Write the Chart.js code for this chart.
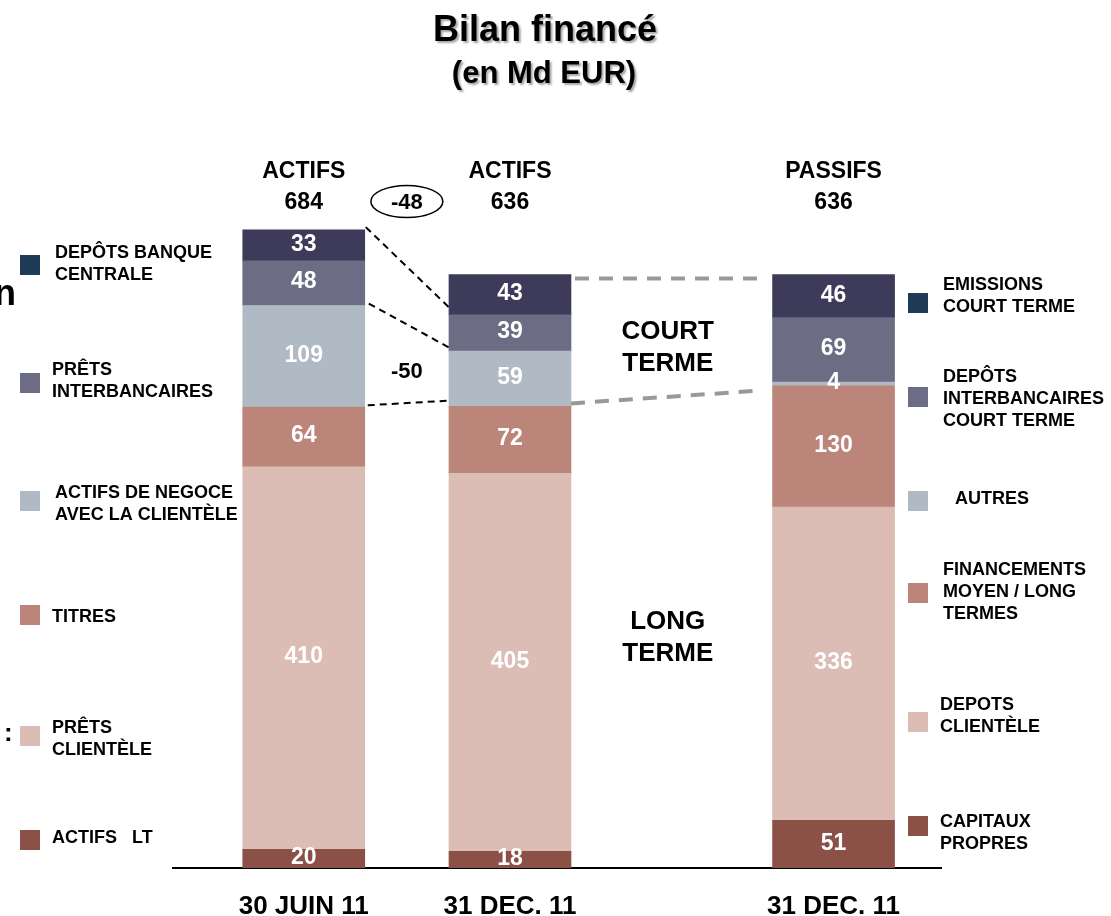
<!DOCTYPE html>
<html>
<head>
<meta charset="utf-8">
<script src="https://cdn.jsdelivr.net/npm/chart.js@4/dist/chart.umd.min.js"></script>
<style>
html, body { margin: 0; padding: 0; background: #fff; }
#wrap { width: 1111px; height: 916px; }
</style>
</head>
<body>
<div id="wrap"><canvas id="bilan"></canvas></div>
<script>
(function(){

// ---- data ----
var categories = ['30 JUIN 11', '31 DEC. 11', '31 DEC. 11'];
var headTitles = ['ACTIFS', 'ACTIFS', 'PASSIFS'];
var headTotals = ['684', '636', '636'];

// stacked layers, bottom to top
var layer1 = [20, 18, 51];     // actifs LT / capitaux propres
var layer2 = [410, 405, 336];  // prêts clientèle / dépots clientèle
var layer3 = [64, 72, 130];    // titres / financements MLT
var layer4 = [109, 59, 4];     // actifs de négoce / autres
var layer5 = [48, 39, 69];     // prêts interbancaires / dépôts interbancaires CT
var layer6 = [33, 43, 46];     // dépôts banque centrale / émissions CT

var assetLegend = [
  ['DEPÔTS BANQUE', 'CENTRALE'],
  ['PRÊTS', 'INTERBANCAIRES'],
  ['ACTIFS DE NEGOCE', 'AVEC LA CLIENTÈLE'],
  ['TITRES'],
  ['PRÊTS', 'CLIENTÈLE'],
  ['ACTIFS   LT']
];
var liabLegend = [
  ['EMISSIONS', 'COURT TERME'],
  ['DEPÔTS', 'INTERBANCAIRES', 'COURT TERME'],
  ['AUTRES'],
  ['FINANCEMENTS', 'MOYEN / LONG', 'TERMES'],
  ['DEPOTS', 'CLIENTÈLE'],
  ['CAPITAUX', 'PROPRES']
];
var diffTotal = '-48';
var diffShort = '-50';

// ---- layout / style ----
var slotX = [0, 1, 2.569];
var layerColors = ['#8B5147', '#DBBDB5', '#BC8579', '#B0BAC4', '#6C6C84', '#3D3A5A'];
var legendColors = ['#1F3B57', '#6C6C84', '#B0BAC4', '#BC8579', '#DBBDB5', '#8B5147'];
var FONT = '"Liberation Sans", Arial, sans-serif';

function pts(vals){
  return vals.map(function(v, i){ return {x: slotX[i], y: v}; });
}

var layers = [layer1, layer2, layer3, layer4, layer5, layer6];
var datasets = layers.map(function(l, i){
  return {
    data: pts(l),
    backgroundColor: layerColors[i],
    borderWidth: 0,
    barThickness: 122,
    stack: 's'
  };
});

function text(ctx, s, x, y, size, color, align, base){
  ctx.font = 'bold ' + size + 'px ' + FONT;
  ctx.fillStyle = color || '#000';
  ctx.textAlign = align || 'center';
  ctx.textBaseline = base || 'alphabetic';
  ctx.fillText(s, x, y);
}

function dashed(ctx, x1, y1, x2, y2, color, w, dash){
  ctx.save();
  ctx.strokeStyle = color;
  ctx.lineWidth = w;
  ctx.setLineDash(dash);
  ctx.beginPath();
  ctx.moveTo(x1, y1);
  ctx.lineTo(x2, y2);
  ctx.stroke();
  ctx.restore();
}

var decor = {
  id: 'decor',
  afterDatasetsDraw: function(chart){
    var ctx = chart.ctx;
    var xs = chart.scales.x, ys = chart.scales.y;

    // values inside segments
    chart.data.datasets.forEach(function(ds, di){
      chart.getDatasetMeta(di).data.forEach(function(bar, i){
        text(ctx, String(ds.data[i].y), bar.x, (bar.y + bar.base) / 2 - 1, 23, '#fff', 'center', 'middle');
      });
    });

    // headers above bars
    slotX.forEach(function(v, i){
      var x = xs.getPixelForValue(v);
      text(ctx, headTitles[i], x, 178, 23);
      text(ctx, headTotals[i], x, 209, 23);
    });

    var b1 = chart.getDatasetMeta(0).data[0];
    var b2 = chart.getDatasetMeta(0).data[1];
    var b3 = chart.getDatasetMeta(0).data[2];
    var r1 = b1.x + b1.width / 2, l2 = b2.x - b2.width / 2;
    var r2 = b2.x + b2.width / 2, l3 = b3.x - b3.width / 2;

    // connectors
    dashed(ctx, r1 + 1, ys.getPixelForValue(687), l2, ys.getPixelForValue(601), '#000', 2, [7, 5]);
    dashed(ctx, r1 + 4, ys.getPixelForValue(605), l2, ys.getPixelForValue(558), '#000', 2, [7, 5]);
    dashed(ctx, r1 + 3, ys.getPixelForValue(496), l2, ys.getPixelForValue(501), '#000', 2, [7, 5]);
    dashed(ctx, r2 + 4, ys.getPixelForValue(632), l3 - 8, ys.getPixelForValue(632), '#999', 4, [14, 10]);
    dashed(ctx, r2, ys.getPixelForValue(498), l3 - 10, ys.getPixelForValue(512), '#999', 4, [14, 10]);

    // variation marks
    var mid = (r1 + l2) / 2;
    ctx.save();
    ctx.strokeStyle = '#000';
    ctx.lineWidth = 1.5;
    ctx.beginPath();
    ctx.ellipse(mid, 201.5, 36, 16, 0, 0, Math.PI * 2);
    ctx.stroke();
    ctx.restore();
    text(ctx, diffTotal, mid, 203, 22, '#000', 'center', 'middle');
    text(ctx, diffShort, mid, 372, 22, '#000', 'center', 'middle');

    var mid2 = (r2 + l3) / 2 - 4;
    text(ctx, 'COURT', mid2, 339, 26);
    text(ctx, 'TERME', mid2, 371, 26);
    text(ctx, 'LONG', mid2, 629, 26);
    text(ctx, 'TERME', mid2, 661, 26);

    // legends
    var lTop = [255, 373, 491, 605, 726, 830];
    var lTx = [55, 52, 55, 52, 52, 52];
    var lTy = [253, 370, 493, 617, 728, 838];
    assetLegend.forEach(function(lines, i){
      ctx.fillStyle = legendColors[i];
      ctx.fillRect(20, lTop[i], 20, 20);
      lines.forEach(function(s, k){
        text(ctx, s, lTx[i], lTy[i] + k * 22, 18, '#000', 'left', 'middle');
      });
    });
    var rTop = [293, 387, 491, 583, 712, 816];
    var rTx = [943, 943, 955, 943, 940, 940];
    var rTy = [285, 377, 499, 570, 705, 822];
    liabLegend.forEach(function(lines, i){
      ctx.fillStyle = legendColors[i];
      ctx.fillRect(908, rTop[i], 20, 20);
      lines.forEach(function(s, k){
        text(ctx, s, rTx[i], rTy[i] + k * 22, 18, '#000', 'left', 'middle');
      });
    });

    // stray characters from the cropped slide
    text(ctx, 'n', -6, 305, 36, '#000', 'left');
    text(ctx, ':', 4, 741, 26, '#000', 'left');

    // title with shadow
    ctx.save();
    ctx.shadowColor = 'rgba(0,0,0,0.35)';
    ctx.shadowOffsetX = 2;
    ctx.shadowOffsetY = 2;
    ctx.shadowBlur = 2;
    text(ctx, 'Bilan financé', 545, 41, 36);
    text(ctx, '(en Md EUR)', 544, 83, 31);
    ctx.restore();
  }
};

var ctx = document.getElementById('bilan').getContext('2d');
new Chart(ctx, {
  type: 'bar',
  data: { datasets: datasets },
  options: {
    responsive: true,
    maintainAspectRatio: false,
    animation: false,
    events: [],
    layout: { padding: { left: 173, right: 170, top: 215, bottom: 0 } },
    plugins: { legend: { display: false }, tooltip: { enabled: false } },
    scales: {
      x: {
        type: 'linear',
        offset: false,
        stacked: true,
        min: -0.634,
        max: 3.09,
        grid: { display: false, offset: false },
        border: { display: true, color: '#000', width: 2 },
        afterBuildTicks: function(s){
          s.ticks = slotX.map(function(v){ return {value: v}; });
        },
        afterFit: function(s){ s.height = 48; },
        ticks: {
          autoSkip: false,
          maxRotation: 0,
          padding: 15,
          color: '#000',
          font: { family: FONT, size: 26, weight: 'bold' },
          callback: function(v, i){ return categories[i]; }
        }
      },
      y: {
        display: false,
        stacked: true,
        min: 0,
        max: 700
      }
    }
  },
  plugins: [decor]
});

}());
</script>
</body>
</html>
